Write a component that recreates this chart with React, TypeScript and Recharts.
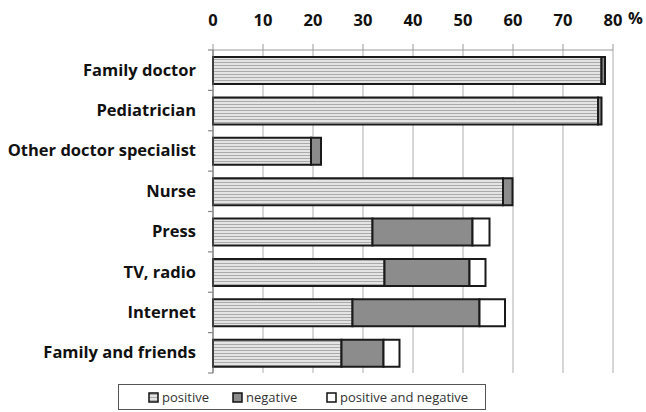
import { BarChart, Bar, XAxis, YAxis, CartesianGrid } from 'recharts'

const categories = [
  'Family doctor',
  'Pediatrician',
  'Other doctor specialist',
  'Nurse',
  'Press',
  'TV, radio',
  'Internet',
  'Family and friends',
]
const positive = [77.7, 77.0, 19.6, 58.0, 31.9, 34.3, 27.9, 25.7]
const negative = [0.7, 0.7, 2.0, 1.9, 20.0, 17.0, 25.4, 8.4]
const both = [0, 0, 0, 0, 3.4, 3.2, 5.1, 3.2]
const xTicks = [0, 10, 20, 30, 40, 50, 60, 70, 80]
const seriesNames = ['positive', 'negative', 'positive and negative']

const data = categories.map((name, i) => ({
  name,
  positive: positive[i],
  negative: negative[i],
  both: both[i],
}))

const W = 646
const H = 412
const X_H = 30
const M = { top: 50 - X_H, right: 33, bottom: 39, left: 8 }
const Y_W = 205
const band = (H - 50 - M.bottom) / categories.length
const font = '"Open Sans", Lato, sans-serif'

function CategoryTick(props: any) {
  const { x, y, payload, index } = props
  const top = y - band / 2
  return (
    <g>
      <line x1={x + 3} x2={x + 8} y1={top} y2={top} stroke="#888" strokeWidth={1.2} />
      {index === categories.length - 1 && (
        <line x1={x + 3} x2={x + 8} y1={top + band} y2={top + band} stroke="#888" strokeWidth={1.2} />
      )}
      <text x={x - 9} y={y} dy={5.5} textAnchor="end" fontFamily={font} fontWeight={700} fontSize={16.5} fill="#111">
        {payload.value}
      </text>
    </g>
  )
}

function ValueTick(props: any) {
  const { x, payload } = props
  return (
    <text x={x} y={26} textAnchor="middle" fontFamily={font} fontWeight={700} fontSize={16.5} fill="#111">
      {payload.value}
    </text>
  )
}

function Swatch({ kind }: { kind: number }) {
  const fill = kind === 0 ? 'url(#stripesL)' : kind === 1 ? '#8c8c8c' : '#fff'
  return (
    <svg width={11} height={11} style={{ marginRight: 3, verticalAlign: -1 }}>
      {kind === 0 && (
        <defs>
          <pattern id="stripesL" width={4} height={3} patternUnits="userSpaceOnUse">
            <rect width={4} height={3} fill="#e4e4e4" />
            <rect y={2} width={4} height={1} fill="#aaaaaa" />
          </pattern>
        </defs>
      )}
      <rect x={1} y={1} width={9} height={9} fill={fill} stroke="#111" strokeWidth={1.5} />
    </svg>
  )
}

export default function App() {
  return (
    <div style={{ position: 'fixed', left: 0, top: 0, width: W, height: H, background: '#fff' }}>
      <BarChart width={W} height={H} data={data} layout="vertical" margin={M} barSize={27}>
        <defs>
          <pattern id="stripes" width={4} height={3} patternUnits="userSpaceOnUse">
            <rect width={4} height={3} fill="#e4e4e4" />
            <rect y={2} width={4} height={1} fill="#aaaaaa" />
          </pattern>
        </defs>
        <CartesianGrid horizontal={false} stroke="#c8c8c8" strokeWidth={1.5} />
        <XAxis
          type="number"
          orientation="top"
          height={X_H}
          domain={[0, 80]}
          ticks={xTicks}
          interval={0}
          stroke="#9a9a9a"
          tickSize={6}
          tick={<ValueTick />}
        />
        <YAxis
          type="category"
          dataKey="name"
          width={Y_W}
          stroke="#666"
          tickLine={false}
          tick={<CategoryTick />}
          interval={0}
        />
        <Bar dataKey="positive" stackId="a" fill="url(#stripes)" stroke="#1a1a1a" strokeWidth={2} isAnimationActive={false} />
        <Bar dataKey="negative" stackId="a" fill="#8c8c8c" stroke="#1a1a1a" strokeWidth={2} isAnimationActive={false} />
        <Bar dataKey="both" stackId="a" fill="#ffffff" stroke="#1a1a1a" strokeWidth={2} isAnimationActive={false} />
        <text x={628} y={24} fontFamily={font} fontWeight={700} fontSize={16.5} fill="#111">%</text>
      </BarChart>
      <div
        style={{
          position: 'absolute',
          left: 118,
          top: 384,
          width: 368,
          height: 26,
          boxSizing: 'border-box',
          border: '1px solid #555',
          fontFamily: font,
          fontSize: 13,
          color: '#333',
        }}
      >
        {seriesNames.map((s, i) => (
          <span key={s} style={{ position: 'absolute', left: [29, 113, 207][i], top: 3, whiteSpace: 'nowrap' }}>
            <Swatch kind={i} />
            {s}
          </span>
        ))}
      </div>
    </div>
  )
}
